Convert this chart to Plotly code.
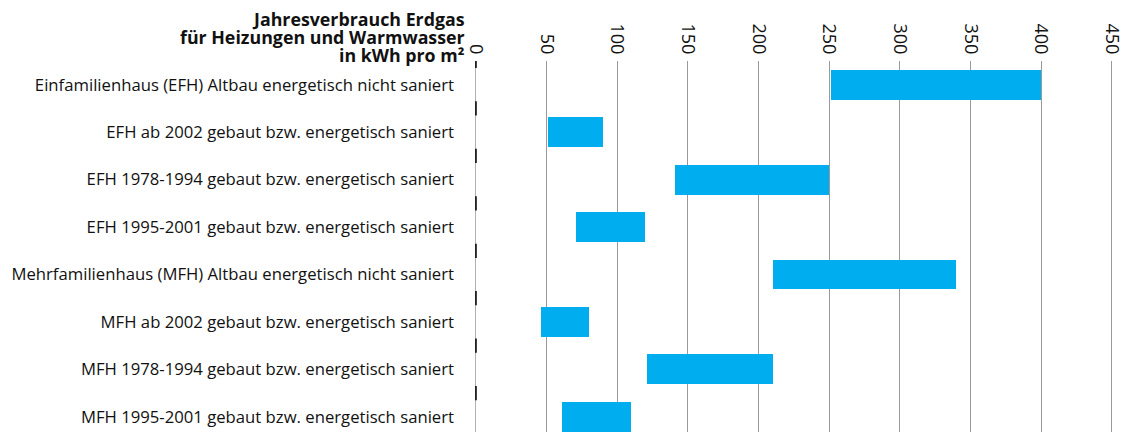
import plotly.graph_objects as go

categories = [
    "Einfamilienhaus (EFH) Altbau energetisch nicht saniert",
    "EFH ab 2002 gebaut bzw. energetisch saniert",
    "EFH 1978-1994 gebaut bzw. energetisch saniert",
    "EFH 1995-2001 gebaut bzw. energetisch saniert",
    "Mehrfamilienhaus (MFH) Altbau energetisch nicht saniert",
    "MFH ab 2002 gebaut bzw. energetisch saniert",
    "MFH 1978-1994 gebaut bzw. energetisch saniert",
    "MFH 1995-2001 gebaut bzw. energetisch saniert",
]
low = [251, 51, 141, 71, 210, 46, 121, 61]
high = [400, 90, 250, 120, 340, 80, 210, 110]
x_ticks = [0, 50, 100, 150, 200, 250, 300, 350, 400, 450]
title_lines = ["Jahresverbrauch Erdgas", "für Heizungen und Warmwasser", "in kWh pro m²"]

FONT = "Open Sans"
BAR = "#00AEEF"

pos = list(range(len(categories)))

fig = go.Figure()
fig.add_trace(go.Bar(
    y=pos,
    x=[h - l for l, h in zip(low, high)],
    base=low,
    orientation="h",
    width=0.63,
    marker=dict(color=BAR, line=dict(width=0)),
    hoverinfo="skip",
    showlegend=False,
))

# dark marks on zero line at category boundaries
seg_x, seg_y = [], []
for i in range(len(categories)):
    b = i - 0.5
    seg_x += [0, 0, None]
    seg_y += [b - 0.15, b + 0.15, None]
fig.add_trace(go.Scatter(
    x=seg_x, y=seg_y, mode="lines",
    line=dict(color="#222222", width=2),
    hoverinfo="skip", showlegend=False,
))

fig.update_layout(
    width=1128, height=432,
    margin=dict(l=475, r=2, t=61, b=0, autoexpand=False),
    paper_bgcolor="white", plot_bgcolor="white",
    font=dict(family=FONT, color="#111111"),
    bargap=0,
    xaxis=dict(
        side="top", range=[-0.6, 460], tickvals=x_ticks,
        tickangle=90, tickfont=dict(size=18, color="#111111", family=FONT),
        showgrid=True, gridcolor="#9a9a9a", gridwidth=1,
        zeroline=True, zerolinecolor="#b0b0b0", zerolinewidth=1,
        showline=False, ticks="", automargin=False,
        ticklabelstandoff=3, fixedrange=True,
    ),
    yaxis=dict(
        range=[7.32, -0.5], tickvals=pos, ticktext=categories,
        tickfont=dict(size=16.7, color="#111111", family=FONT),
        showgrid=False, zeroline=False, showline=False, ticks="", automargin=False,
        ticklabelstandoff=20, fixedrange=True,
    ),
)

ys = [19, 37, 55]
for txt, yp in zip(title_lines, ys):
    fig.add_annotation(
        text="<b>%s</b>" % txt, xref="paper", yref="paper",
        x=(467 - 475) / 650.0, y=(432 - yp) / 371.0,
        xanchor="right", yanchor="middle", showarrow=False,
        font=dict(size=17.8, family=FONT, color="#111111"),
    )

fig.write_html(
    "out.html",
    config={"displayModeBar": False},
    post_script="document.body.style.margin='0';document.body.style.overflow='hidden';",
)
